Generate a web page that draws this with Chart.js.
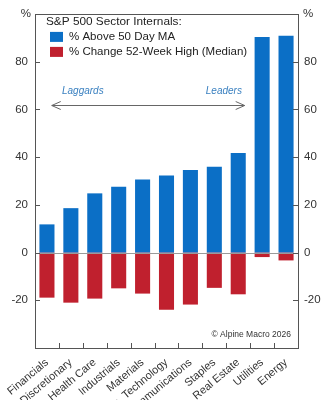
<!DOCTYPE html>
<html>
<head>
<meta charset="utf-8">
<script src="https://cdn.jsdelivr.net/npm/chart.js@4/dist/chart.umd.min.js"></script>
<style>
  html, body { margin: 0; padding: 0; background: #fff; overflow: hidden; }
  #wrap { width: 324px; height: 400px; position: relative; }
</style>
</head>
<body>
<div id="wrap"><canvas id="c"></canvas></div>
<script>
// Sectors, ordered from laggards to leaders
const sectors = ["Financials", "Discretionary", "Health Care", "Industrials", "Materials",
  "Info. Technology", "Communications", "Staples", "Real Estate", "Utilities", "Energy"];
// % of stocks above their 50-day moving average
const above50DayMA = [11.8, 18.6, 24.8, 27.6, 30.6, 32.3, 34.6, 36.0, 41.7, 90.3, 90.8];
// Median % change from 52-week high
const changeFrom52WeekHigh = [-18.9, -21.0, -19.3, -15.0, -17.2, -24.0, -21.8, -14.8, -17.5, -1.9, -3.3];
// Axis range and ticks
const yMin = -40, yMax = 100, yStep = 20;
const yTickLabels = [-20, 0, 20, 40, 60, 80];

const titleText = "S&P 500 Sector Internals:";
const FONT = "'Liberation Sans', Arial, sans-serif";
const INK = "#333";

const frame = {
  id: "frame",
  afterDatasetsDraw(chart) {
    const { ctx, chartArea: a, scales } = chart;
    const x = scales.x, y = scales.y;
    ctx.save();
    // zero line
    const y0 = y.getPixelForValue(0);
    ctx.strokeStyle = "#9a9a9a";
    ctx.lineWidth = 1;
    ctx.beginPath();
    ctx.moveTo(a.left, Math.round(y0) + 0.5);
    ctx.lineTo(a.right, Math.round(y0) + 0.5);
    ctx.stroke();
    // frame
    ctx.strokeStyle = "#555";
    ctx.strokeRect(Math.round(a.left) + 0.5, Math.round(a.top) + 0.5,
      Math.round(a.right - a.left), Math.round(a.bottom - a.top));
    // inward ticks on both value axes
    ctx.beginPath();
    for (let v = yMin + yStep; v < yMax; v += yStep) {
      const py = Math.round(y.getPixelForValue(v)) + 0.5;
      ctx.moveTo(a.left, py); ctx.lineTo(a.left + 5, py);
      ctx.moveTo(a.right, py); ctx.lineTo(a.right - 5, py);
    }
    // category boundary ticks
    for (let i = 0; i < sectors.length - 1; i++) {
      const px = Math.round((x.getPixelForValue(i) + x.getPixelForValue(i + 1)) / 2) + 0.5;
      ctx.moveTo(px, a.bottom); ctx.lineTo(px, a.bottom - 5);
    }
    ctx.stroke();

    // "%" unit markers
    ctx.fillStyle = INK;
    ctx.font = "11.5px " + FONT;
    ctx.textBaseline = "middle";
    ctx.textAlign = "right";
    ctx.fillText("%", a.left - 4, a.top);
    ctx.textAlign = "left";
    ctx.fillText("%", a.right + 5, a.top);

    // legend
    ctx.fillStyle = "#222";
    ctx.font = "11.8px " + FONT;
    ctx.textAlign = "left";
    ctx.fillText(titleText, a.left + 11, a.top + 8);
    chart.data.datasets.forEach((ds, i) => {
      const cy = a.top + 23 + i * 15;
      ctx.fillStyle = ds.backgroundColor;
      ctx.fillRect(a.left + 15, cy - 5, 13, 10);
      ctx.fillStyle = "#222";
      ctx.font = "11.5px " + FONT;
      ctx.fillText(ds.label, a.left + 34, cy);
    });

    // laggards / leaders arrow
    const ay = Math.round(y.getPixelForValue(62)) + 0.5;
    const ax1 = x.getPixelForValue(0.2), ax2 = x.getPixelForValue(8.27);
    ctx.strokeStyle = "#666";
    ctx.lineWidth = 1;
    ctx.beginPath();
    ctx.moveTo(ax1, ay); ctx.lineTo(ax2, ay);
    ctx.moveTo(ax1 + 9, ay - 4); ctx.lineTo(ax1, ay); ctx.lineTo(ax1 + 9, ay + 4);
    ctx.moveTo(ax2 - 9, ay - 4); ctx.lineTo(ax2, ay); ctx.lineTo(ax2 - 9, ay + 4);
    ctx.stroke();
    ctx.fillStyle = "#3a80c0";
    ctx.font = "italic 10px " + FONT;
    ctx.textAlign = "center";
    const ty = y.getPixelForValue(67.8);
    ctx.fillText("Laggards", x.getPixelForValue(1.5), ty);
    ctx.fillText("Leaders", x.getPixelForValue(7.4), ty);

    // source
    ctx.fillStyle = INK;
    ctx.font = "8.5px " + FONT;
    ctx.textAlign = "right";
    ctx.fillText("\u00A9 Alpine Macro 2026", a.right - 7, a.bottom - 13);
    ctx.restore();
  }
};

const valueTicks = (pad) => ({
  stepSize: yStep,
  color: INK,
  font: { family: FONT, size: 11.5 },
  padding: pad,
  callback: v => yTickLabels.includes(v) ? String(v) : ""
});

new Chart(document.getElementById("c"), {
  type: "bar",
  data: {
    labels: sectors,
    datasets: [
      { label: "% Above 50 Day MA", data: above50DayMA, backgroundColor: "#0b6fc6" },
      { label: "% Change 52-Week High (Median)", data: changeFrom52WeekHigh, backgroundColor: "#c0202e" }
    ]
  },
  options: {
    responsive: true,
    maintainAspectRatio: false,
    animation: false,
    layout: { padding: { top: 11, left: 0, right: 0, bottom: 0 } },
    plugins: { legend: { display: false }, tooltip: { enabled: false } },
    datasets: { bar: { categoryPercentage: 1, barPercentage: 0.63 } },
    scales: {
      x: {
        stacked: true,
        grid: { display: false },
        border: { display: false },
        ticks: {
          autoSkip: false, minRotation: 40, maxRotation: 40, padding: 0,
          color: INK, font: { family: FONT, size: 11 }
        },
        afterFit: s => { s.height = 52; }
      },
      y: {
        stacked: true,
        position: "left",
        min: yMin, max: yMax,
        grid: { display: false, drawTicks: false },
        border: { display: false },
        ticks: valueTicks(7),
        afterFit: s => { s.width = 35; }
      },
      y2: {
        position: "right",
        min: yMin, max: yMax,
        grid: { display: false, drawTicks: false },
        border: { display: false },
        ticks: valueTicks(6),
        afterFit: s => { s.width = 26; }
      }
    }
  },
  plugins: [frame]
});
</script>
</body>
</html>
